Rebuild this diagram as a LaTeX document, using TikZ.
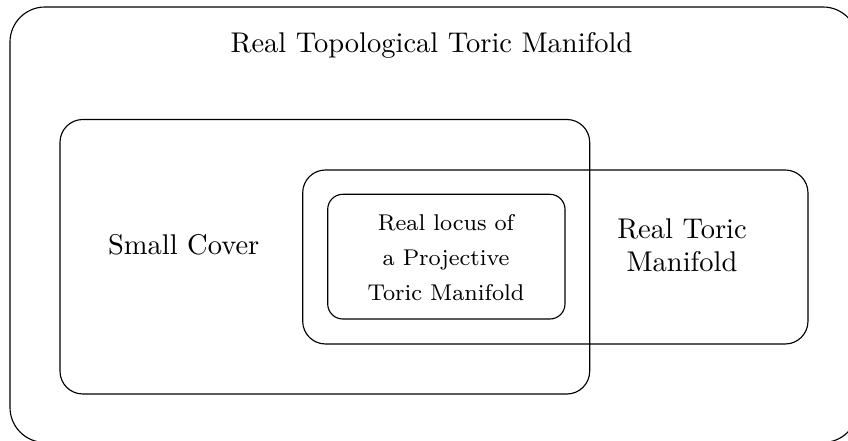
\documentclass[tikz,border=0pt]{standalone}
\begin{document}
\begin{tikzpicture}[x=0.3509pt,y=-0.3509pt,
  regionbox/.style={draw,line width=0.4pt},
  lbl/.style={inner sep=0pt,font=\fontsize{10}{11.5}\selectfont,align=center},
  smalllbl/.style={inner sep=0pt,font=\fontsize{8}{12.2}\selectfont,align=center}]
\useasboundingbox (0,0) rectangle (848,441);
\begin{scope}
\clip (0,0) rectangle (848,441);
\draw[regionbox,rounded corners=12.3pt] (10,7) rectangle (858,442.5);
\end{scope}
\draw[regionbox,rounded corners=8pt] (60,119.5) rectangle (589.7,394);
\draw[regionbox,rounded corners=8pt] (302.7,170) rectangle (808,344);
\draw[regionbox,rounded corners=5.3pt] (327.7,194.3) rectangle (565,319);
\node[lbl,anchor=base] (title) at (431.5,52.7) {Real Topological Toric Manifold};
\node[lbl,anchor=base] (sc) at (183.7,255) {Small Cover};
\node[lbl] (rtm) at (682,245.5) {Real Toric\\Manifold};
\node[smalllbl] (rl) at (446,257.5) {Real locus of\\a Projective\\Toric Manifold};
\end{tikzpicture}
\end{document}
